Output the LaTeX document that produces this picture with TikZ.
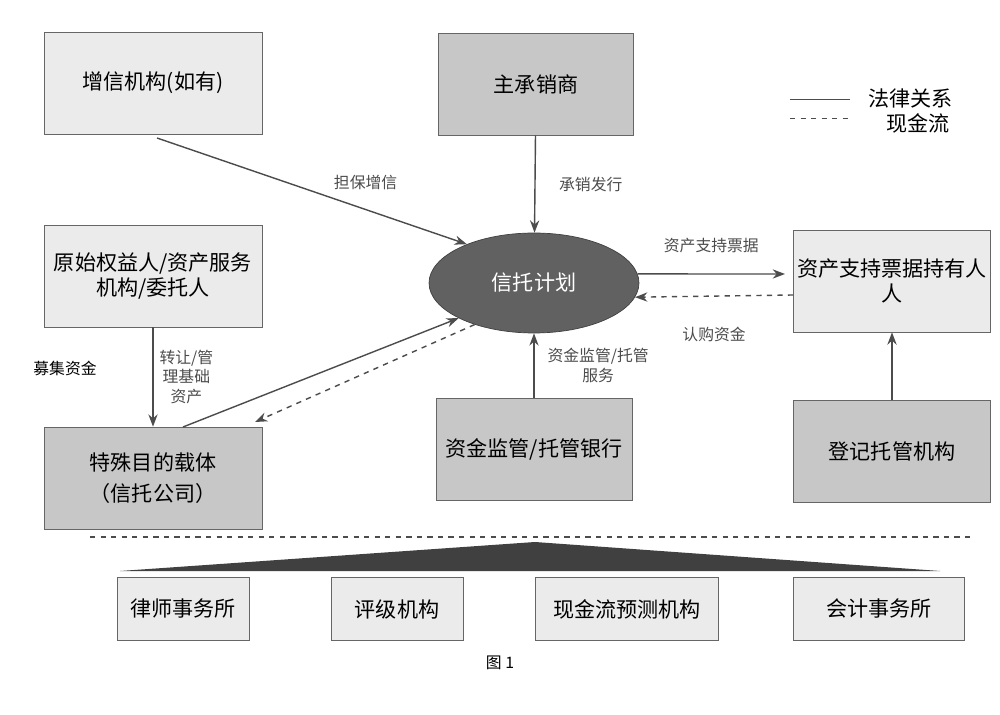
\documentclass[tikz,border=0pt]{standalone}
\usepackage{fontspec}
\setmainfont{Noto Sans CJK SC}
\usetikzlibrary{arrows.meta,shapes.geometric}
\begin{document}
\begin{tikzpicture}[x=0.02cm,y=-0.02cm,
 box/.style={draw=black!60,minimum width=#1*0.02cm,align=center,font=\large,minimum height=2.04cm,inner sep=2pt},
 light/.style={fill=black!8},
 mid/.style={fill=black!22},
 sbox/.style={draw=black!60,fill=black!8,minimum height=1.26cm,font=\large,minimum width=2.64cm},
 lab/.style={font=\small,align=center},
 ar/.style={-{Stealth[length=7pt]},black!70,thick},
 dar/.style={ar,dashed}]
\useasboundingbox[fill=white] (0,0) rectangle (1000,715);
\node[box=218,light] (zx) at (153,83) {增信机构(如有)};
\node[box=195,mid] (zc) at (536,84) {主承销商};
\node[box=218,light,text width=4.1cm] (ys) at (153,276) {原始权益人/资产服务\\机构/委托人};
\node[box=218,mid] (ts) at (153,478) {特殊目的载体\\[4pt]（信托公司）};
\node[ellipse,fill=black!62,draw=black!75,minimum width=4.2cm,minimum height=2cm,text=white,font=\large] (xt) at (534,283) {信托计划};
\node[box=197,light,text width=3.8cm] (cy) at (892,281) {资产支持票据持有人\\人};
\node[box=196,mid] (yh) at (534,449) {资金监管/托管银行};
\node[box=197,mid] (dj) at (892,451) {登记托管机构};
\draw[dashed,black!70,line width=1.2pt] (90,537) -- (975,537);
\fill[black!75] (120,571) -- (535,542) -- (940,571) -- cycle;
\node[sbox] (ls) at (183,609) {律师事务所};
\node[sbox] (pj) at (397,609) {评级机构};
\node[sbox,minimum width=3.66cm] (xj) at (627,609) {现金流预测机构};
\node[sbox,minimum width=3.42cm] (kj) at (879,609) {会计事务所};
\node[font=\small] (tu) at (500,663) {图 1};
\coordinate (l1) at (790,99); \coordinate (l2) at (850,99);
\coordinate (l3) at (790,118); \coordinate (l4) at (850,118);
\draw[black!70] (l1) -- (l2); \draw[black!70,dashed] (l3) -- (l4);
\node[anchor=west,font=\large] (t1) at (862,98) {法律关系};
\node[anchor=west,font=\large] (t2) at (880,123) {现金流};
\draw[ar] (157,138) -- (xt.150) node[lab,pos=0.55,above right] {担保增信};
\draw[ar] (zc) -- (xt) node[lab,midway,right=10pt] {承销发行};
\draw[ar] (ys.south) -- (ts.north) node[lab,midway,right] {转让/管\\理基础\\资产};
\node[lab] (mj) at (65,368) {募集资金};
\draw[ar] (183,427) -- (xt.205);
\draw[dar] (xt.215) -- (255,422);
\draw[ar] (xt.5) -- (785,274) node[lab,midway,above=8pt] {资产支持票据};
\draw[dar] (cy.west|-0,295) -- (xt.-8) node[lab,midway,below=14pt] {认购资金};
\draw[ar] (yh) -- (xt) node[lab,midway,right=4pt] {资金监管/托管\\服务};
\draw[ar,line width=1.6pt] (dj) -- (cy);
\end{tikzpicture}
\end{document}
